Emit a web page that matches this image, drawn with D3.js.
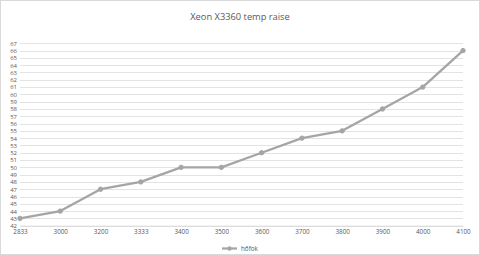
<!DOCTYPE html>
<html><head><meta charset="utf-8">
<script src="https://cdn.jsdelivr.net/npm/d3@7"></script>
<style>html,body{margin:0;padding:0;background:#fff;}svg{display:block;}</style>
</head><body>
<script>
const categories = ["2833","3000","3200","3333","3400","3500","3600","3700","3800","3900","4000","4100"];
const hofok = [43,44,47,48,50,50,52,54,55,58,61,66];
const yTicks = d3.range(42, 68, 1);
const title = "Xeon X3360 temp raise";
const seriesName = "hőfok";

const W = 480, H = 255;
const margin = {left: 20, right: 17, top: 43.3, bottom: 29.3};
const svg = d3.select("body").append("svg").attr("width", W).attr("height", H);
svg.append("rect").attr("x",0.5).attr("y",0.5).attr("width",W-1).attr("height",H-1)
  .attr("fill","#fff").attr("stroke","#d9d9d9");

const x = d3.scalePoint().domain(categories).range([margin.left, W - margin.right]);
const y = d3.scaleLinear().domain([42, 67]).range([H - margin.bottom, margin.top]);

const font = "'Open Sans', 'Liberation Sans', sans-serif";
svg.append("text").attr("x", 240).attr("y", 19.5).attr("text-anchor","middle")
  .attr("font-family", font).attr("font-size", 9.3).attr("fill","#595959").text(title);

// gridlines
svg.append("g").selectAll("line").data(yTicks).join("line")
  .attr("x1", margin.left).attr("x2", W - margin.right)
  .attr("y1", d => Math.round(y(d)) + 0.5).attr("y2", d => Math.round(y(d)) + 0.5)
  .attr("stroke", "#e3e3e3").attr("stroke-width", 1);

// y axis labels
const yAxis = d3.axisLeft(y).tickValues(yTicks).tickSize(0).tickPadding(3);
const gy = svg.append("g").attr("transform", `translate(${margin.left},0)`).call(yAxis);
gy.select(".domain").remove();
gy.selectAll("text").attr("font-family", font).attr("font-size", 6).attr("fill","#595959");

// x axis labels
const xAxis = d3.axisBottom(x).tickSize(0).tickPadding(4);
const gx = svg.append("g").attr("transform", `translate(0,${H - margin.bottom})`).call(xAxis);
gx.select(".domain").attr("stroke","#d9d9d9");
gx.selectAll("text").attr("font-family", font).attr("font-size", 6.3).attr("fill","#595959");

const color = "#a5a5a5";
const line = d3.line().x((d,i) => x(categories[i])).y(d => y(d));
svg.append("path").datum(hofok).attr("d", line).attr("fill","none")
  .attr("stroke", color).attr("stroke-width", 2.25).attr("stroke-linejoin","round");
svg.append("g").selectAll("circle").data(hofok).join("circle")
  .attr("cx", (d,i) => x(categories[i])).attr("cy", d => y(d)).attr("r", 2.2)
  .attr("fill", color).attr("stroke", color);

// legend
const lg = svg.append("g").attr("transform","translate(222,248.5)");
lg.append("line").attr("x1",0).attr("x2",15).attr("y1",0).attr("y2",0).attr("stroke",color).attr("stroke-width",2.25);
lg.append("circle").attr("cx",7.5).attr("cy",0).attr("r",2.2).attr("fill",color);
lg.append("text").attr("x",19).attr("y",2.3).attr("font-family",font).attr("font-size",6.3)
  .attr("fill","#595959").text(seriesName);
</script>
</body></html>
